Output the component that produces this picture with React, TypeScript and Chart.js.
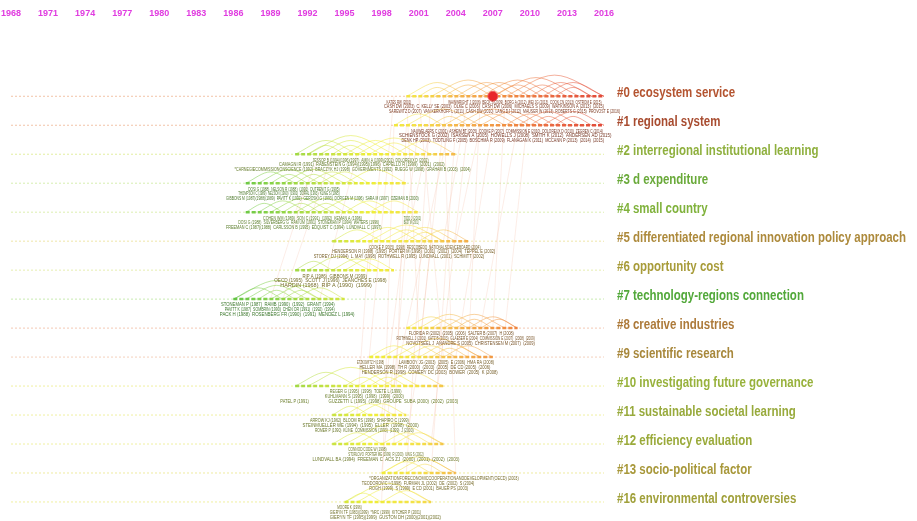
import React, { useEffect, useRef } from 'react';
import { Chart, registerables } from 'chart.js';

Chart.register(...registerables);

// ---------- DATA ----------
const YEAR_TICKS = [1968, 1971, 1974, 1977, 1980, 1983, 1986, 1989, 1992, 1995, 1998, 2001, 2004, 2007, 2010, 2013, 2016];

const CLUSTER_NAMES = [
  '#0 ecosystem service',
  '#1 regional system',
  '#2 interregional institutional learning',
  '#3 d expenditure',
  '#4 small country',
  '#5 differentiated regional innovation policy approach',
  '#6 opportunity cost',
  '#7 technology-regions connection',
  '#8 creative industries',
  '#9 scientific research',
  '#10 investigating future governance',
  '#11 sustainable societal learning',
  '#12 efficiency evaluation',
  '#13 socio-political factor',
  '#16 environmental controversies',
];

const LABEL_COLORS = ['#b45430', '#a84c30', '#8fb03e', '#6aaa3a', '#80b23c', '#ad8a3c', '#a89c3a', '#52a83a', '#ad7a3a', '#a8883c', '#98b23c', '#98aa3c', '#9aaa3a', '#a8983a', '#a0a03a'];

const BASELINE_COLORS = ['#f2c4a8', '#f2c4a8', '#e2eea0', '#d6eeb0', '#dcefb0', '#efe6a8', '#e6eeb0', '#c8eab0', '#f4c8b4', '#f4d0bc', '#f0f0a0', '#f0f0a0', '#f0f0a0', '#efeba0', '#f0f0a0'];

const SPAN_START = [2000, 1999, 1991, 1987, 1987, 1994, 1991, 1986, 2000, 1997, 1991, 1994, 1994, 1998, 1995];
const SPAN_END = [2016, 2016, 2004, 2000, 2001, 2005, 1999, 1995, 2009, 2007, 2003, 2000, 2003, 2004, 2002];

// citation arcs inside each cluster: [fromYear, toYear]
const ARCS_0 = [[2000, 2005], [2001, 2004], [2002, 2008], [2003, 2007], [2004, 2009], [2005, 2010], [2006, 2012], [2007, 2011], [2007, 2014], [2008, 2016], [2009, 2013], [2010, 2015], [2011, 2016], [2012, 2015]];
const ARCS_1 = [[1999, 2003], [2000, 2006], [2002, 2005], [2003, 2008], [2004, 2010], [2005, 2009], [2006, 2011], [2008, 2012], [2009, 2014], [2010, 2013], [2011, 2016], [2012, 2015]];
const ARCS_2 = [[1991, 1996], [1992, 1995], [1992, 1999], [1993, 1998], [1994, 1997], [1995, 2000], [1996, 2002], [1997, 2001], [1999, 2004]];
const ARCS_3 = [[1987, 1991], [1988, 1993], [1989, 1992], [1990, 1995], [1991, 1994], [1992, 1996], [1993, 1997], [1995, 2000]];
const ARCS_4 = [[1987, 1990], [1988, 1992], [1989, 1994], [1990, 1993], [1991, 1996], [1992, 1995], [1993, 1998], [1995, 1999], [1997, 2001]];
const ARCS_5 = [[1994, 1998], [1996, 2001], [1997, 2003], [1998, 2002], [1999, 2004], [2000, 2003], [2001, 2005]];
const ARCS_6 = [[1991, 1994], [1992, 1997], [1994, 1998], [1995, 1999]];
const ARCS_7 = [[1986, 1990], [1986, 1993], [1987, 1992], [1988, 1991], [1989, 1994], [1990, 1993], [1991, 1995]];
const ARCS_8 = [[2000, 2004], [2001, 2006], [2002, 2005], [2003, 2008], [2004, 2007], [2005, 2009], [2006, 2009]];
const ARCS_9 = [[1997, 2001], [1998, 2003], [1999, 2006], [2000, 2004], [2001, 2006], [2002, 2005], [2003, 2007]];
const ARCS_10 = [[1991, 1996], [1992, 1999], [1995, 1998], [1996, 2001], [1997, 2000], [1998, 2003]];
const ARCS_11 = [[1994, 1997], [1995, 1999], [1996, 2000]];
const ARCS_12 = [[1994, 1998], [1995, 2003], [1996, 2001], [1998, 2002], [1999, 2003]];
const ARCS_13 = [[1998, 2002], [1998, 2004], [1999, 2004], [2000, 2003]];
const ARCS_16 = [[1995, 1998], [1995, 2002], [1996, 2001], [1998, 2002]];
const CLUSTER_ARCS = [ARCS_0, ARCS_1, ARCS_2, ARCS_3, ARCS_4, ARCS_5, ARCS_6, ARCS_7, ARCS_8, ARCS_9, ARCS_10, ARCS_11, ARCS_12, ARCS_13, ARCS_16];

// links between clusters: [yearA, clusterA, yearB, clusterB]
const CROSS_LINKS = [
  [2000, 0, 2001, 8], [2001, 0, 2003, 9], [2002, 1, 2000, 5], [2003, 0, 2004, 13], [2005, 1, 2002, 12],
  [2004, 0, 1999, 10], [2006, 0, 2005, 9], [2008, 0, 2007, 8], [2001, 1, 1998, 11], [1999, 0, 1997, 9],
  [2002, 0, 2000, 13], [2009, 1, 2006, 8], [2003, 1, 2001, 9], [2005, 0, 2003, 5], [2007, 1, 2004, 9],
  [2000, 1, 1999, 12], [2004, 1, 2002, 13], [2010, 0, 2008, 8], [1999, 1, 1998, 14], [2006, 1, 2004, 5],
  [1996, 2, 1993, 7], [1994, 2, 1990, 7], [1992, 3, 1989, 7], [1998, 2, 1997, 6], [1993, 2, 1991, 4],
  [2000, 5, 1999, 10], [1997, 5, 1996, 11], [2001, 9, 2000, 12], [1999, 9, 1998, 13], [2002, 5, 2001, 9],
];

const KEY_NODE_YEARS = [2007];
const KEY_NODE_CLUSTERS = [0];

// node labels: [cluster, row, fromYear, toYear, text]
const NODE_LABELS: [number, number, number, number, string][] = [
  [0, 0, 1998.4, 2000.4, 'KATES RW (2001)'],
  [0, 0, 2003.4, 2015.8, 'WAINWRIGHT J (2006)  BECK S (2009)  BORG A (2012)  WEI JG (2013)  COOK CN (2013)  OSTROM E (2015)'],
  [0, 1, 1998.2, 2016.0, 'CASH DW (2003)  C. KELLY SE (2003)  OLKE C (2006)  CASH DW (2006)  MICHAELS S (2009)  WATKINSON A (2013)  (2015)'],
  [0, 2, 1998.6, 2017.3, 'SAREWITZ D (2007)  VAN KERKHOFF L (2011)  CASH DW (2010)  LANG DJ (2012)  MAUSER W (2013)  ROBERTS G (2015)  PROVOST E (2016)'],
  [1, 0, 2000.4, 2015.9, 'NAUWELAERS C (2001)  ASHEIM BT (2005)  COOKE P (2007)  COMMISSION E (2010)  DOLOREUX D (2010)  ZEGREN C (2014)'],
  [1, 1, 1999.4, 2016.6, 'SCHIENSTOCK G (2002)  ISAKSEN A (2005)  HOWELLS J (2008)  SMITH K (2012)  ANDERSEN AD (2015)'],
  [1, 2, 1999.6, 2016.0, 'DENK HP (2003)  TODTLING F (2005)  BOSCHMA R (2009)  FLANAGAN K (2011)  MCCANN P (2013)  (2014)  (2015)'],
  [2, 0, 1992.4, 2001.8, 'JESSOP B (1994)(1996)(1997)  AMIN A (1999)(2002)  DOLOREUX D (2002)'],
  [2, 1, 1989.7, 2003.1, 'CAMAGNI R (1991)  RABENSTEIN G (1994)(1995)(1996)  CAPELLO R (1999)  (2001)  (2002)'],
  [2, 2, 1986.1, 2005.2, '*CARNEGIECOMMISSIONONSCIENCE (1992)  BRACZYK HJ (1998)  GOVERNMENTS (1992)  RUEGG W (1998)  GRAHAM B (2003)  (2004)'],
  [3, 0, 1987.2, 1994.6, 'DOSI G (1988)  NELSON R (1988)  (1991)  DUTRENIT G (1995)'],
  [3, 1, 1986.4, 1994.6, 'THOMPSON C (1989)  NELSON (1990)  (1991)  DORAL (1993)  KLINE S (1995)'],
  [3, 2, 1985.4, 2001.0, 'GIBBONS M (1987)(1988)(1989)  PAVITT K (1992)  GEROSKI G (1993)  DORGEN M (1996)  SARA M (1997)  OZEMAN B (2000)'],
  [4, 0, 1988.4, 1996.4, 'COHEN WM (1989)  SON C (1991)  (1992)  KEMAN A (1996)'],
  [4, 0, 1999.8, 2001.2, 'TIDD J (2001)'],
  [4, 1, 1986.4, 1997.8, 'DOSI G (1988)  SILVERBERG G  RAM UM (1991)  STONEMAN P (1994)  WATERS (1996)'],
  [4, 1, 1999.8, 2001.0, 'BEST M (2001)'],
  [4, 2, 1985.4, 1998.0, 'FREEMAN C (1987)(1988)  CARLSSON B (1995)  EDQUIST C (1994)  LUNDVALL C (1997)'],
  [5, 0, 1997.0, 2006.0, 'COOKE P (2005)  (1998)  RESCOBEDO  NATIONALSCIENCEBOARD (2004)'],
  [5, 1, 1994.0, 2007.2, 'HENDERSON R (1998)  (1995)  PORTER M (1998)  (2001)  (2002)  (2004)  TEPPEL E (2002)'],
  [5, 2, 1992.5, 2006.3, 'STOREY DJ (1994)  L. MAY (1998)  ROTHWELL R (1995)  LUNDVALL (2001)  SCHMITT (2002)'],
  [6, 0, 1991.6, 1996.8, 'RIP A (1986)  GIBBONS M (1999)'],
  [6, 1, 1989.3, 1998.4, 'OECD (1995)  SCOTT J (1996)  JEANCHES E (1998)'],
  [6, 2, 1989.8, 1997.2, 'HARDIN (1968)  RIP A (1990)  (1999)'],
  [7, 0, 1985.0, 1994.2, 'STONEMAN P (1987)  RAMB (1990)  (1992)  GRANT (1994)'],
  [7, 1, 1985.3, 1994.2, 'PAVITT K (1987)  SOMBRIN (1990)  CHEN OR (1991)  (1992)  (1994)'],
  [7, 2, 1984.9, 1995.8, 'PACK H (1988)  ROSENBERG FR (1990)  (1991)  MENDEZ L (1994)'],
  [8, 0, 2000.2, 2008.7, 'FLORIDA R (2002)  (2005)  (2006)  SALTER B (2007)  H (2008)'],
  [8, 1, 1999.2, 2010.4, 'ROTHWELL J (2001)  KATZ B (2003)  GLAESER E (2004)  COMMISSION E (2007)  (2008)  (2009)'],
  [8, 2, 2000.0, 2010.4, 'NOVOTSEEL J  ANANDRE S (2005)  CHRISTENSEN M (2007)  (2009)'],
  [9, 0, 1996.0, 1998.2, 'ETZKOWITZ H (1998)'],
  [9, 0, 1999.4, 2007.1, 'LAMBOOY JG (2003)  (2005)  E (2006)  HMA RA (2008)'],
  [9, 1, 1996.2, 2006.8, 'HELLER MA (1998)  TH R (2000)  (2003)  (2005)  DE CD (2005)  (2006)'],
  [9, 2, 1996.4, 2007.4, 'HENDERSON R (1998)  COMERY DC (2003)  BOWER  (2005)  K (2008)'],
  [10, 0, 1993.8, 1999.6, 'REGER G (1995)  (1998)  TOETE L (1999)'],
  [10, 1, 1993.4, 1999.8, 'KUHLMANN S (1995)  (1998)  (1999)  (2000)'],
  [10, 2, 1989.8, 1992.1, 'PATEL P (1991)'],
  [10, 2, 1993.7, 2004.2, 'GUZZETTI L (1995)  (1998)  GROUPE  SUBA (2000)  (2002)  (2003)'],
  [11, 0, 1992.2, 2000.2, 'ARROW KJ (1962)  BLOOM RS (1998)  SHAPIRO C (1999)'],
  [11, 1, 1991.6, 2001.0, 'STEINMUELLER WE (1994)  (1995)  ELLER  (1998)  (2000)'],
  [11, 2, 1992.6, 2000.6, 'ROMER P (1990)  KLINE  COMMISSION (1993)  (1999)  J (2000)'],
  [12, 0, 1995.3, 1998.4, 'CONNOD CODE W (1998)'],
  [12, 1, 1995.3, 2001.4, 'STORLOVO  PORTER ME (1999)  R (2000)  IUNG S (2002)'],
  [12, 2, 1992.4, 2004.3, 'LUNDVALL BA (1994)  FREEMAN C  ACS ZJ  (2000)  (2001)  (2002)  (2003)'],
  [13, 0, 1997.0, 2009.1, '*ORGANIZATIONFORECONOMICCOOPERATIONANDDEVELOPMENT(OECD) (2003)'],
  [13, 1, 1996.4, 2005.5, 'TEODOROVIC I (1998)  FURMAN JL (2002)  DE  (2002)  S (2004)'],
  [13, 2, 1997.0, 2005.0, 'ROGH (1999)  S (1999)  E CD (2001)  BAUER PS (2003)'],
  [14, 0, 1994.4, 1996.4, 'MOORE K (1996)'],
  [14, 1, 1993.8, 2001.2, 'GIERYN TF (1983)(1999)  *NRC (1999)  KITCHER P (2001)'],
  [14, 2, 1993.8, 2002.8, 'GIERYN TF (1995)(1999)  GUSTON DH (2000)(2001)(2002)'],
];

// year colour ramp (year, colour)
const RAMP_YEARS = [1984, 1989, 1994, 1997, 2001, 2004, 2008, 2012, 2016];
const RAMP_COLORS = ['#44b83c', '#80d040', '#c6e23a', '#eeee30', '#f4e040', '#f4b444', '#f08a3a', '#e8603a', '#e04030'];

// ---------- helpers ----------
function hexA(hex: string, a: number) {
  const n = parseInt(hex.slice(1), 16);
  return `rgba(${(n >> 16) & 255},${(n >> 8) & 255},${n & 255},${a})`;
}

function darken(hex: string, f: number) {
  const n = parseInt(hex.slice(1), 16);
  const r = Math.round(((n >> 16) & 255) * f);
  const g = Math.round(((n >> 8) & 255) * f);
  const b = Math.round((n & 255) * f);
  return `rgb(${r},${g},${b})`;
}

const gradCache = new Map<string, CanvasGradient>();
function yearGradient(chart: any, alpha: number) {
  const xs = chart.scales?.x;
  if (!xs || !chart.chartArea) return hexA(RAMP_COLORS[3], alpha);
  const x0 = xs.getPixelForValue(RAMP_YEARS[0]);
  const x1 = xs.getPixelForValue(RAMP_YEARS[RAMP_YEARS.length - 1]);
  const key = `${alpha}|${x0}|${x1}`;
  let g = gradCache.get(key);
  if (!g) {
    g = chart.ctx.createLinearGradient(x0, 0, x1, 0);
    RAMP_YEARS.forEach((y, i) => {
      g!.addColorStop((y - RAMP_YEARS[0]) / (RAMP_YEARS[RAMP_YEARS.length - 1] - RAMP_YEARS[0]), hexA(RAMP_COLORS[i], alpha));
    });
    gradCache.set(key, g);
  }
  return g;
}

const labelPlugin = {
  id: 'timelineLabels',
  afterDatasetsDraw(chart: any) {
    const { ctx, chartArea } = chart;
    const xs = chart.scales.x;
    const ys = chart.scales.y;
    ctx.save();
    // small node labels
    ctx.textBaseline = 'middle';
    ctx.textAlign = 'left';
    ctx.font = '5px "Liberation Sans", Arial, sans-serif';
    NODE_LABELS.forEach(([c, r, a, b, t]) => {
      const xa = xs.getPixelForValue(a);
      const xb = xs.getPixelForValue(b);
      const y = ys.getPixelForValue(c) + 6 + r * 4.6;
      const w = ctx.measureText(t).width;
      ctx.save();
      ctx.translate(xa, y);
      ctx.scale((xb - xa) / w, 1);
      ctx.fillStyle = darken(LABEL_COLORS[c], 0.7);
      ctx.fillText(t, 0, 0);
      ctx.restore();
    });
    // cluster names
    ctx.font = 'bold 14px "Liberation Sans", Arial, sans-serif';
    CLUSTER_NAMES.forEach((name, i) => {
      const y = ys.getPixelForValue(i) - 3;
      ctx.save();
      ctx.translate(chartArea.right + 13, y);
      ctx.scale(0.82, 1);
      ctx.fillStyle = LABEL_COLORS[i];
      ctx.fillText(name, 0, 0);
      ctx.restore();
    });
    ctx.restore();
  },
};

function arcHeight(span: number) {
  return Math.min(0.95, 0.085 * span + 0.05);
}

export default function App() {
  const ref = useRef<HTMLCanvasElement | null>(null);

  useEffect(() => {
    document.body.style.margin = '0';
    const canvas = ref.current;
    if (!canvas) return;

    const baselineSets = CLUSTER_NAMES.map((_, i) => ({
      label: `baseline ${i}`,
      data: [{ x: YEAR_TICKS[0], y: i }, { x: YEAR_TICKS[YEAR_TICKS.length - 1], y: i }],
      borderColor: BASELINE_COLORS[i],
      borderWidth: 1,
      borderDash: [2, 2],
      pointRadius: 0,
      order: 6,
    }));

    const crossData: any[] = [];
    CROSS_LINKS.forEach(([ya, ca, yb, cb]) => {
      crossData.push({ x: ya, y: ca }, { x: yb, y: cb }, { x: yb, y: null });
    });

    const arcData: any[] = [];
    CLUSTER_ARCS.forEach((arcs, i) => {
      arcs.forEach(([a, b]) => {
        arcData.push({ x: a, y: i }, { x: (a + b) / 2, y: i - arcHeight(b - a) }, { x: b, y: i }, { x: b, y: null });
      });
    });

    const spanData: any[] = [];
    SPAN_START.forEach((s, i) => {
      spanData.push({ x: s, y: i }, { x: SPAN_END[i], y: i }, { x: SPAN_END[i], y: null });
    });

    const keyData = KEY_NODE_YEARS.map((yr, i) => ({ x: yr, y: KEY_NODE_CLUSTERS[i] }));

    const chart = new Chart(canvas, {
      type: 'line',
      data: {
        datasets: [
          ...baselineSets,
          {
            label: 'cross-cluster links',
            data: crossData,
            borderColor: 'rgba(238,160,130,0.28)',
            borderWidth: 0.7,
            pointRadius: 0,
            order: 5,
          },
          {
            label: 'citation arcs',
            data: arcData,
            borderColor: (ctx: any) => yearGradient(ctx.chart, 0.5),
            borderWidth: 1,
            pointRadius: 0,
            cubicInterpolationMode: 'monotone',
            order: 4,
          },
          {
            label: 'cluster spans',
            data: spanData,
            borderColor: (ctx: any) => yearGradient(ctx.chart, 0.95),
            borderWidth: 2.5,
            borderDash: [4, 2],
            borderCapStyle: 'butt',
            pointRadius: 0,
            order: 3,
          },
          {
            label: 'key node',
            data: keyData,
            showLine: false,
            pointRadius: 5,
            pointBackgroundColor: '#e8262a',
            pointBorderColor: '#f06060',
            pointBorderWidth: 1,
            order: 1,
          },
        ] as any,
      },
      options: {
        animation: false,
        responsive: false,
        events: [],
        layout: { padding: { left: 0, right: 313, top: 0, bottom: 0 } },
        plugins: { legend: { display: false }, tooltip: { enabled: false } },
        scales: {
          x: {
            type: 'linear',
            position: 'top',
            min: YEAR_TICKS[0],
            max: YEAR_TICKS[YEAR_TICKS.length - 1],
            afterBuildTicks: (axis: any) => {
              axis.ticks = YEAR_TICKS.map((v) => ({ value: v }));
            },
            afterFit: (axis: any) => {
              axis.height = 26;
              axis.paddingLeft = 11;
            },
            grid: { display: false, drawTicks: false },
            border: { display: false },
            ticks: {
              color: '#e03ce0',
              font: { family: '"Liberation Sans", Arial, sans-serif', size: 9, weight: 'bold' },
              padding: 7,
              maxRotation: 0,
              autoSkip: false,
              callback: (v: any) => String(v),
            },
          },
          y: {
            type: 'linear',
            reverse: true,
            min: -2.425,
            max: 14.45,
            display: false,
          },
        },
      } as any,
      plugins: [labelPlugin],
    });

    return () => chart.destroy();
  }, []);

  return (
    <div style={{ width: 917, height: 521, background: '#fff' }}>
      <canvas ref={ref} width={917} height={521} />
    </div>
  );
}
